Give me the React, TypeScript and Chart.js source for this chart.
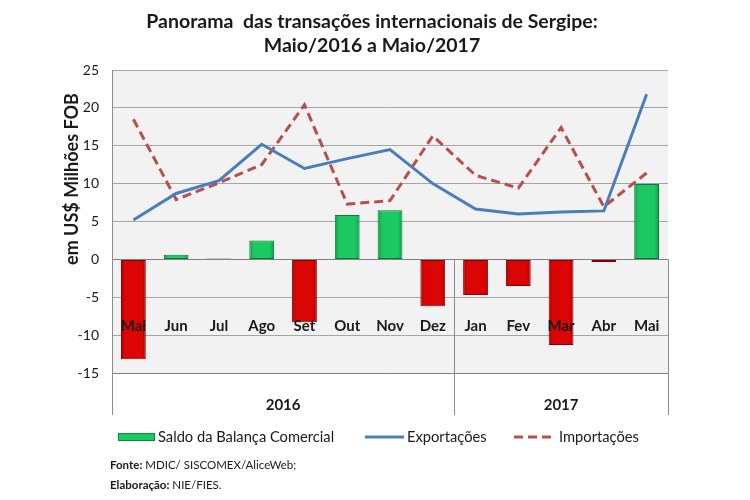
import React, { useEffect, useRef } from "react";
import { Chart, registerables } from "chart.js";

Chart.register(...registerables);

const months = ["Mai", "Jun", "Jul", "Ago", "Set", "Out", "Nov", "Dez", "Jan", "Fev", "Mar", "Abr", "Mai"];
const years = ["2016", "2017"];
const yearSpans = [8, 5];
const saldo = [-13.2, 0.6, 0.1, 2.5, -8.3, 5.85, 6.5, -6.2, -4.7, -3.5, -11.3, -0.35, 9.95];
const exportacoes = [5.2, 8.7, 10.4, 15.2, 12.0, 13.3, 14.5, 10.0, 6.65, 6.0, 6.25, 6.4, 21.8];
const importacoes = [18.5, 7.9, 10.1, 12.5, 20.4, 7.3, 7.75, 16.3, 11.1, 9.4, 17.4, 6.95, 11.4];
const titleLines = ["Panorama  das transações internacionais de Sergipe:", "Maio/2016 a Maio/2017"];
const yAxisTitle = "em US$ Milhões FOB";
const legendLabels = ["Saldo da Balança Comercial", "Exportações", "Importações"];
const footerLines = [
  ["Fonte:", " MDIC/ SISCOMEX/AliceWeb;"],
  ["Elaboração:", " NIE/FIES."],
];

const FONT = "Lato, 'Open Sans', sans-serif";

function barFill(ctx: any) {
  const chart = ctx.chart;
  const v = ctx.raw as number;
  const pos = v >= 0;
  const solid = pos ? "#16c05e" : "#dc0505";
  const xs = chart.scales && chart.scales.x;
  if (!xs || ctx.dataIndex === undefined) return solid;
  const cx = xs.getPixelForValue(ctx.dataIndex);
  if (!Number.isFinite(cx)) return solid;
  const w = 13;
  const g = chart.ctx.createLinearGradient(cx - w, 0, cx + w, 0);
  if (pos) {
    g.addColorStop(0, "#0a9a48");
    g.addColorStop(0.2, "#1bc862");
    g.addColorStop(0.8, "#1bc862");
    g.addColorStop(1, "#0a9a48");
  } else {
    g.addColorStop(0, "#b00000");
    g.addColorStop(0.2, "#dc0505");
    g.addColorStop(0.8, "#dc0505");
    g.addColorStop(1, "#b00000");
  }
  return g;
}

const decorPlugin = {
  id: "decor",
  beforeDraw(chart: any) {
    const { ctx, chartArea } = chart;
    ctx.save();
    ctx.fillStyle = "#ffffff";
    ctx.fillRect(0, 0, chart.width, chart.height);
    ctx.fillStyle = "#f2f2f2";
    ctx.fillRect(chartArea.left, chartArea.top, chartArea.right - chartArea.left, chartArea.bottom - chartArea.top);
    ctx.restore();
  },
  afterDatasetsDraw(chart: any) {
    const { ctx, chartArea } = chart;
    const xs = chart.scales.x;
    const ys = chart.scales.y;
    const zeroY = ys.getPixelForValue(0);
    const rowBottom = chartArea.bottom + 42;
    ctx.save();

    // month labels
    ctx.fillStyle = "#1a1a1a";
    ctx.font = `bold 15px ${FONT}`;
    ctx.textAlign = "center";
    ctx.textBaseline = "middle";
    months.forEach((m, i) => {
      ctx.fillText(m, xs.getPixelForValue(i), zeroY + 67);
    });

    // group separators
    ctx.strokeStyle = "#8c8c8c";
    ctx.lineWidth = 1;
    ctx.beginPath();
    ctx.moveTo(Math.round(chartArea.left) + 0.5, chartArea.top);
    ctx.lineTo(Math.round(chartArea.left) + 0.5, rowBottom);
    let start = 0;
    const bounds: number[] = [];
    yearSpans.forEach((span) => {
      const end = start + span - 1;
      const right =
        end + 1 < months.length
          ? (xs.getPixelForValue(end) + xs.getPixelForValue(end + 1)) / 2
          : chartArea.right;
      bounds.push(right);
      start += span;
    });
    bounds.forEach((b) => {
      const x = Math.round(b) + 0.5;
      ctx.moveTo(x, zeroY);
      ctx.lineTo(x, rowBottom);
    });
    ctx.stroke();

    // year labels
    ctx.font = `bold 15px ${FONT}`;
    ctx.fillStyle = "#1a1a1a";
    let left = chartArea.left;
    years.forEach((y, i) => {
      const right = bounds[i];
      ctx.fillText(y, (left + right) / 2, chartArea.bottom + 32);
      left = right;
    });

    // title
    ctx.font = `bold 19.5px ${FONT}`;
    ctx.fillStyle = "#1a1a1a";
    ctx.fillText(titleLines[0], 372, 22);
    ctx.fillText(titleLines[1], 372, 46);

    // y axis title
    ctx.save();
    ctx.translate(72, 179);
    ctx.rotate(-Math.PI / 2);
    ctx.font = `bold 18px ${FONT}`;
    ctx.fillText(yAxisTitle, 0, 0);
    ctx.restore();

    // legend
    const ly = 437;
    ctx.font = `14.7px ${FONT}`;
    ctx.textAlign = "left";
    ctx.fillStyle = "#1bc862";
    ctx.strokeStyle = "#0a8a40";
    ctx.fillRect(118, ly - 4, 37, 8);
    ctx.strokeRect(118.5, ly - 3.5, 36, 7);
    ctx.fillStyle = "#1a1a1a";
    ctx.fillText(legendLabels[0], 158, ly);

    ctx.strokeStyle = "#4a7ebb";
    ctx.lineWidth = 3;
    ctx.beginPath();
    ctx.moveTo(365, ly);
    ctx.lineTo(404, ly);
    ctx.stroke();
    ctx.fillText(legendLabels[1], 407, ly);

    ctx.strokeStyle = "#b84f4c";
    ctx.setLineDash([9, 5]);
    ctx.beginPath();
    ctx.moveTo(514, ly);
    ctx.lineTo(555, ly);
    ctx.stroke();
    ctx.setLineDash([]);
    ctx.fillText(legendLabels[2], 559, ly);

    // footer
    footerLines.forEach((parts, i) => {
      const fy = 465 + i * 20;
      ctx.font = `bold 11.5px ${FONT}`;
      ctx.fillText(parts[0], 110, fy);
      const w = ctx.measureText(parts[0]).width;
      ctx.font = `11.5px ${FONT}`;
      ctx.fillText(parts[1], 110 + w, fy);
    });

    ctx.restore();
  },
};

export default function App() {
  const ref = useRef<HTMLCanvasElement | null>(null);
  useEffect(() => {
    if (!ref.current) return;
    const chart = new Chart(ref.current, {
      type: "bar",
      data: {
        labels: months,
        datasets: [
          {
            type: "line",
            label: legendLabels[1],
            data: exportacoes,
            borderColor: "#4a7ebb",
            borderWidth: 3,
            pointRadius: 0,
            tension: 0,
            order: 1,
          } as any,
          {
            type: "line",
            label: legendLabels[2],
            data: importacoes,
            borderColor: "#b84f4c",
            borderWidth: 3,
            borderDash: [9, 5],
            pointRadius: 0,
            tension: 0,
            order: 2,
          } as any,
          {
            type: "bar",
            label: legendLabels[0],
            data: saldo,
            backgroundColor: barFill,
            borderColor: (c: any) => ((c.raw as number) >= 0 ? "#0b7a3a" : "#8a0000"),
            borderWidth: 1,
            borderSkipped: false,
            barPercentage: 0.58,
            categoryPercentage: 1,
            order: 3,
          } as any,
        ],
      },
      options: {
        animation: false,
        responsive: false,
        devicePixelRatio: 1,
        layout: { padding: { top: 70, right: 82, bottom: 127, left: 0 } },
        plugins: { legend: { display: false }, title: { display: false }, tooltip: { enabled: false } },
        scales: {
          x: { display: false, offset: true },
          y: {
            min: -15,
            max: 25,
            ticks: {
              stepSize: 5,
              padding: 13,
              color: "#1a1a1a",
              font: { family: FONT, size: 14 },
            },
            grid: {
              drawTicks: false,
              color: (c: any) => (c.tick && (c.tick.value === 0 || c.tick.value === -15) ? "#808080" : "#a6a6a6"),
              lineWidth: 1,
            },
            border: { display: true, color: "#8c8c8c" },
            afterFit: (scale: any) => {
              scale.width = 112;
            },
          },
        },
      },
      plugins: [decorPlugin],
    });
    return () => chart.destroy();
  }, []);
  return (
    <div style={{ position: "absolute", left: 0, top: 0, width: 750, height: 500, background: "#fff" }}>
      <canvas ref={ref} width={750} height={500} />
    </div>
  );
}
